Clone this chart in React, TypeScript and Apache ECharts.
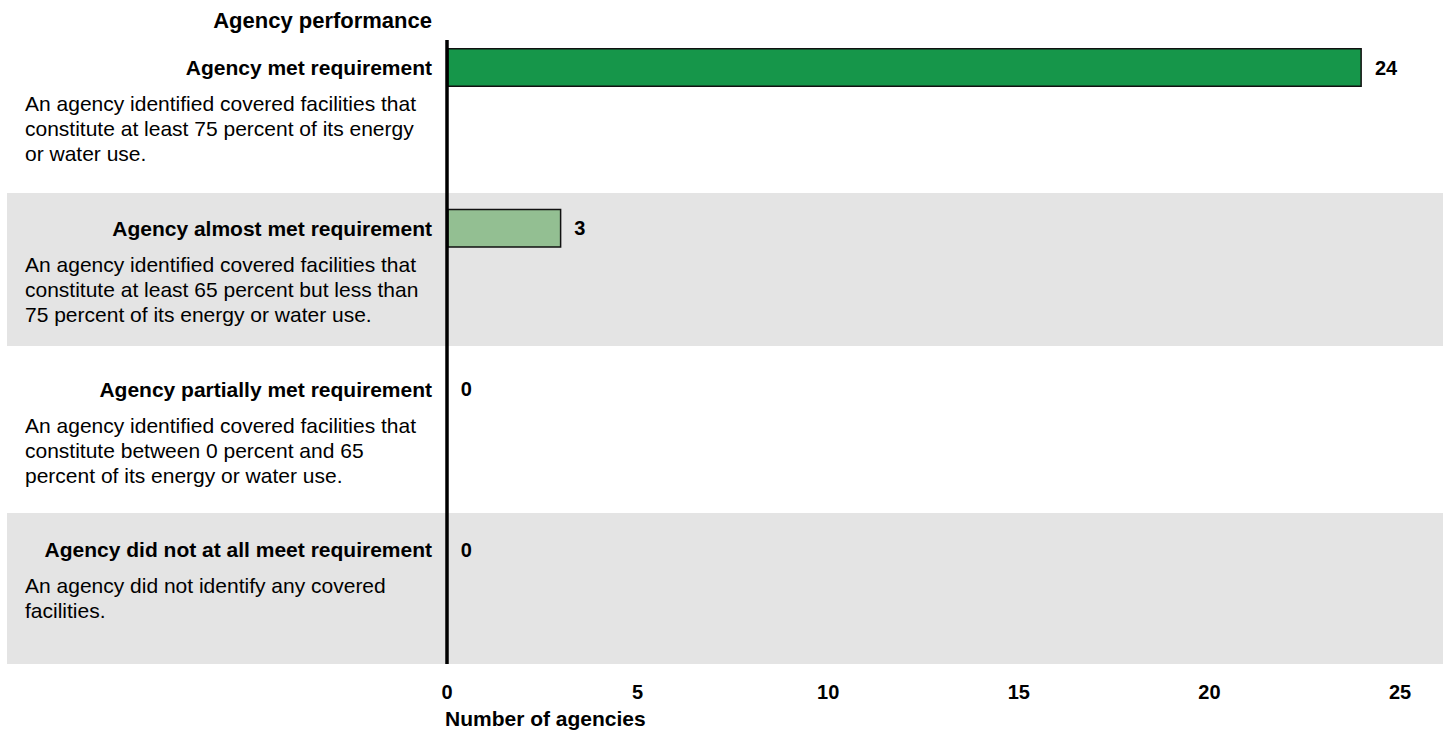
import React, { useEffect, useRef } from "react";
import * as echarts from "echarts";

const FONT = "'Liberation Sans', Arial, Helvetica, sans-serif";

// Performance categories, top to bottom
const categories = [
  "Agency met requirement",
  "Agency almost met requirement",
  "Agency partially met requirement",
  "Agency did not at all meet requirement",
];

// Explanatory text under each category, one entry per printed line
const descriptions = [
  ["An agency identified covered facilities that", "constitute at least 75 percent of its energy", "or water use."],
  ["An agency identified covered facilities that", "constitute at least 65 percent but less than", "75 percent of its energy or water use."],
  ["An agency identified covered facilities that", "constitute between 0 percent and 65", "percent of its energy or water use."],
  ["An agency did not identify any covered", "facilities."],
];

// Number of agencies in each category
const agencyCounts = [24, 3, 0, 0];

const barColors = ["#16964a", "#93bf92", "#93bf92", "#93bf92"];

const xMin = 0;
const xMax = 25;
const xStep = 5;

const yTitle = "Agency performance";
const xTitle = "Number of agencies";

const DESC_LINES = 3;
const DESC_LINE_H = 25;
const TITLE_LINE_H = 47;

export default function App() {
  const ref = useRef<HTMLDivElement>(null);

  useEffect(() => {
    if (!ref.current) return;
    const chart = echarts.init(ref.current, null, { renderer: "svg" });

    const labelFor = (_v: string, i: number) => {
      const lines = descriptions[i].slice();
      while (lines.length < DESC_LINES) lines.push(" ");
      return [`{t|${categories[i]}}`, ...lines.map((l) => `{d|${l}}`)].join("\n");
    };

    chart.setOption({
      animation: false,
      textStyle: { fontFamily: FONT },
      title: [
        {
          text: yTitle,
          right: 1016,
          top: 9,
          padding: 0,
          textStyle: { fontFamily: FONT, fontSize: 22, fontWeight: "bold", color: "#000" },
        },
        {
          text: xTitle,
          left: 445,
          top: 708,
          padding: 0,
          textStyle: { fontFamily: FONT, fontSize: 21, fontWeight: "bold", color: "#000" },
        },
      ],
      grid: {
        left: 447,
        right: 48,
        top: -12.9,
        bottom: 103.6,
        containLabel: false,
        outerBoundsMode: "none",
      },
      xAxis: {
        type: "value",
        min: xMin,
        max: xMax,
        interval: xStep,
        axisLine: { show: false },
        axisTick: { show: false },
        splitLine: { show: false },
        axisLabel: {
          margin: 52,
          color: "#000",
          fontFamily: FONT,
          fontSize: 20,
          fontWeight: "bold",
        },
      },
      yAxis: {
        type: "category",
        inverse: true,
        data: categories,
        axisLine: { show: false },
        axisTick: { show: false },
        splitLine: { show: false },
        axisLabel: {
          interval: 0,
          margin: 15,
          width: 407,
          align: "right",
          verticalAlign: "middle",
          padding: [DESC_LINES * DESC_LINE_H, 0, 0, 0],
          formatter: labelFor,
          rich: {
            t: {
              fontFamily: FONT,
              fontSize: 21,
              fontWeight: "bold",
              color: "#000",
              lineHeight: TITLE_LINE_H,
              align: "right",
            },
            d: {
              fontFamily: FONT,
              fontSize: 21,
              color: "#000",
              lineHeight: DESC_LINE_H,
              align: "left",
            },
          },
        },
      },
      series: [
        {
          type: "bar",
          barWidth: 39,
          data: agencyCounts.map((v, i) => ({
            value: v,
            itemStyle: { color: barColors[i] },
          })),
          itemStyle: { borderColor: "#111", borderWidth: 1.5 },
          label: {
            show: true,
            position: "right",
            distance: 13,
            color: "#000",
            fontFamily: FONT,
            fontSize: 20,
            fontWeight: "bold",
          },
        },
      ],
      graphic: [
        {
          type: "rect",
          silent: true,
          z: -10,
          shape: { x: 7, y: 193, width: 1436, height: 153 },
          style: { fill: "#e4e4e4" },
        },
        {
          type: "rect",
          silent: true,
          z: -10,
          shape: { x: 7, y: 513, width: 1436, height: 151 },
          style: { fill: "#e4e4e4" },
        },
        {
          type: "line",
          silent: true,
          z: 100,
          shape: { x1: 447, y1: 40, x2: 447, y2: 664 },
          style: { stroke: "#000", lineWidth: 3.5 },
        },
      ],
    });

    return () => chart.dispose();
  }, []);

  return (
    <div
      ref={ref}
      style={{ position: "absolute", left: 0, top: 0, width: 1448, height: 734, background: "#fff" }}
    />
  );
}
